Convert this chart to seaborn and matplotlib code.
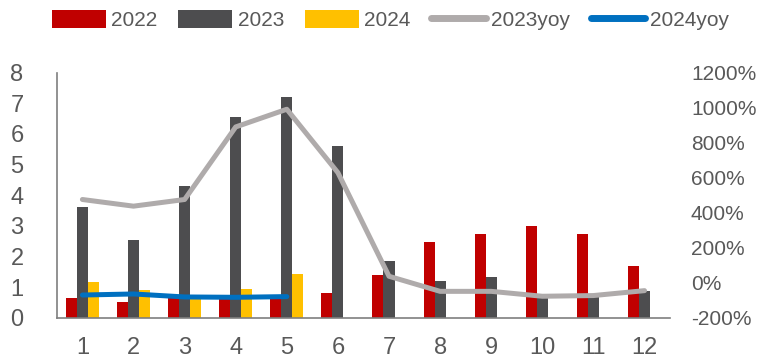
import numpy as np
import pandas as pd
import seaborn as sns
import matplotlib
matplotlib.use("Agg")
import matplotlib.pyplot as plt
from matplotlib.ticker import FuncFormatter

months = [1, 2, 3, 4, 5, 6, 7, 8, 9, 10, 11, 12]
v2022 = [0.66, 0.52, 0.76, 0.72, 0.69, 0.80, 1.40, 2.47, 2.74, 3.01, 2.74, 1.70]
v2023 = [3.62, 2.54, 4.31, 6.56, 7.20, 5.62, 1.86, 1.21, 1.35, 0.72, 0.74, 0.88]
v2024 = [1.18, 0.91, 0.70, 0.95, 1.42, np.nan, np.nan, np.nan, np.nan, np.nan, np.nan, np.nan]
yoy2023 = [476, 438, 476, 890, 991, 629, 38, -48, -48, -76, -72, -44]
yoy2024 = [-69, -63, -80, -82, -78]

txt = "#595959"
sns.set_style("white")
plt.rcParams["font.family"] = ["Liberation Sans Narrow", "Liberation Sans", "DejaVu Sans"]
plt.rcParams["font.size"] = 17

bar_df = pd.DataFrame({
    "month": months * 3,
    "year": ["2022"] * 12 + ["2023"] * 12 + ["2024"] * 12,
    "value": v2022 + v2023 + v2024,
})

fig = plt.figure(figsize=(7.58, 3.63), dpi=100)
ax = fig.add_axes([0.075, 0.124, 0.809, 0.676])

sns.barplot(data=bar_df, x="month", y="value", hue="year",
            hue_order=["2022", "2023", "2024"],
            palette=["#C00000", "#4D4D4F", "#FFC000"], saturation=1,
            width=0.65, linewidth=0, ax=ax, legend=True)

ax2 = ax.twinx()
pos = np.arange(len(months))
sns.lineplot(x=pos, y=yoy2023, color="#AFABAB", linewidth=3.6, ax=ax2,
             label="2023yoy", legend=False, solid_joinstyle="round",
             solid_capstyle="round")
sns.lineplot(x=pos[:len(yoy2024)], y=yoy2024, color="#0070C0", linewidth=3.6,
             ax=ax2, label="2024yoy", legend=False, solid_joinstyle="round",
             solid_capstyle="round")

ax.set_xlim(-0.5, 11.5)
ax.set_ylim(0, 8)
ax.set_yticks(range(0, 9))
ax2.set_ylim(-200, 1200)
ax2.set_yticks(range(-200, 1201, 200))
ax2.yaxis.set_major_formatter(FuncFormatter(lambda v, p: f"{int(v)}%"))

ax.set_xlabel("")
ax.set_ylabel("")
ax2.set_ylabel("")
ax.tick_params(axis="both", length=0, colors=txt, labelsize=17)
ax.tick_params(axis="x", pad=14)
ax.tick_params(axis="y", pad=24)
ax2.tick_params(axis="y", length=0, colors=txt, labelsize=15, pad=15)

for s in ["top", "right"]:
    ax.spines[s].set_visible(False)
for s in ["left", "bottom"]:
    ax.spines[s].set_color("#7F7F7F")
    ax.spines[s].set_linewidth(1.2)
for s in ax2.spines.values():
    s.set_visible(False)

h1, l1 = ax.get_legend_handles_labels()
h2, l2 = ax2.get_legend_handles_labels()
ax.legend_.remove()
leg = fig.legend(h1 + h2, l1 + l2, loc="center", bbox_to_anchor=(0.515, 0.945),
                 ncol=5, frameon=False, fontsize=15, handlelength=2.6,
                 handleheight=1.0, handletextpad=0.25, columnspacing=1.0)
for t in leg.get_texts():
    t.set_color(txt)
for lh in leg.legend_handles[3:]:
    lh.set_linewidth(5)
    lh.set_solid_capstyle("round")

fig.savefig("out.png", dpi=100)
